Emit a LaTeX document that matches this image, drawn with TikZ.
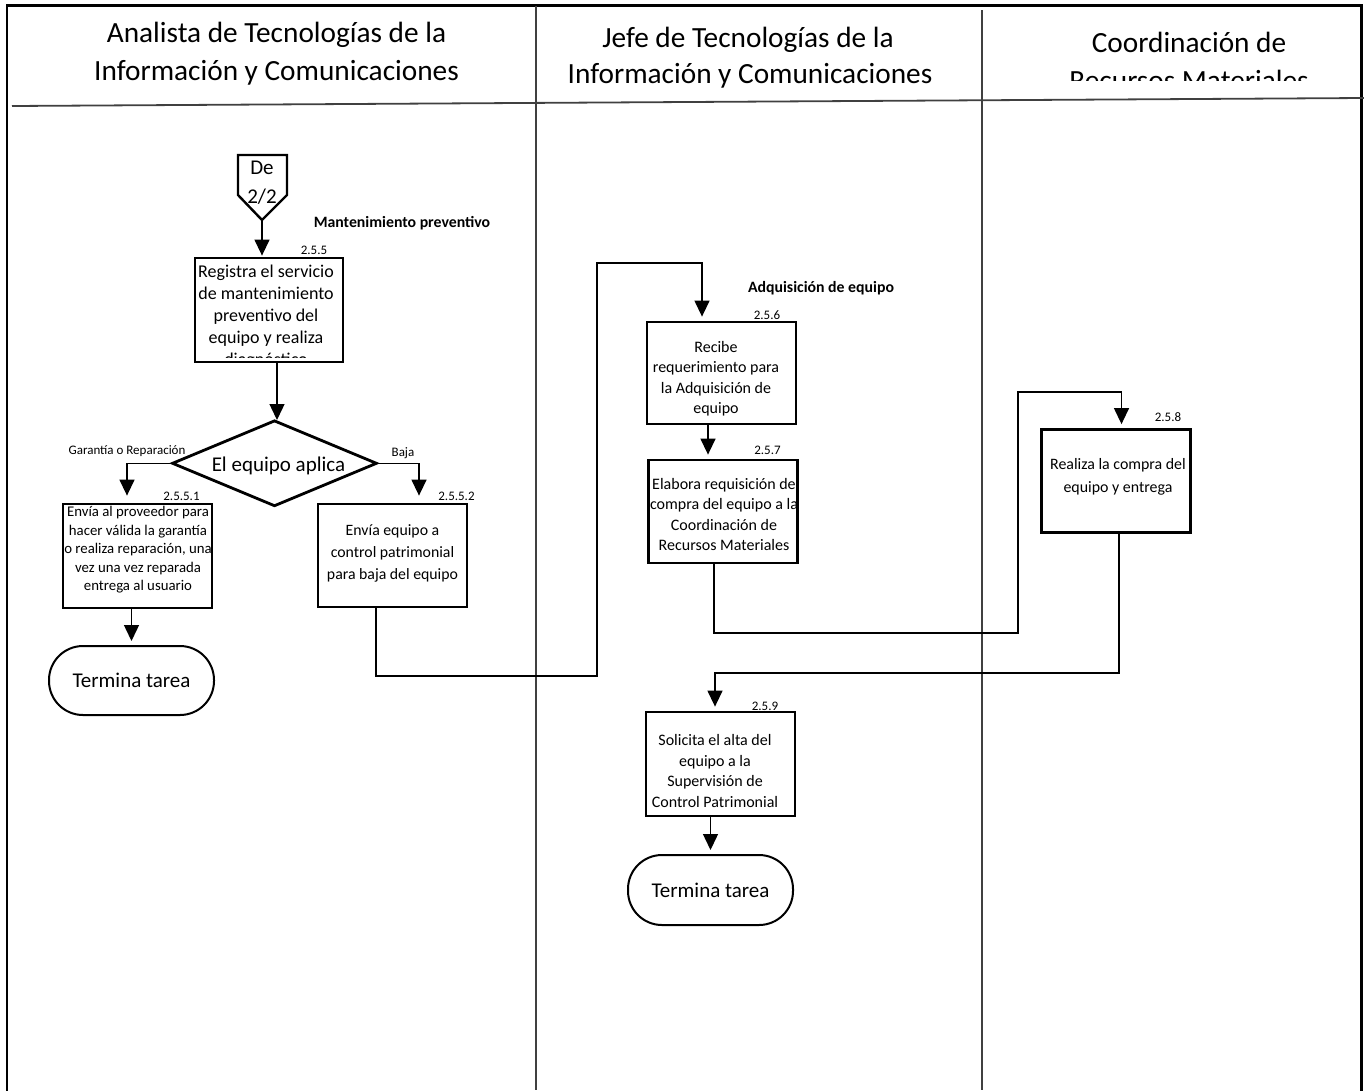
\documentclass[tikz,border=0pt]{standalone}
\usepackage{fontspec}
\setmainfont{Carlito}
\usetikzlibrary{arrows.meta,shapes.geometric}
\begin{document}
\begin{tikzpicture}[x=1pt,y=-1pt,
  frame/.style={line width=2.6pt,black,line cap=rect},
  lane/.style={line width=1.5pt,black!75},
  header/.style={anchor=base,inner sep=0pt,font=\fontsize{29.3}{38}\selectfont},
  stepbox/.style={draw,rectangle,line width=2.8pt,inner sep=0pt},
  endbox/.style={draw,rectangle,line width=2pt,rounded corners=34pt,inner sep=0pt,
    minimum width=165pt,minimum height=69pt,font=\fontsize{21}{25}\selectfont},
  boxtext/.style={align=center,inner sep=0pt,font=\fontsize{16}{20.5}\selectfont},
  num/.style={inner sep=0pt,font=\fontsize{13}{15}\selectfont},
  caption/.style={inner sep=0pt,font=\fontsize{15.8}{18}\selectfont\bfseries},
  flow/.style={line width=1.4pt,-{Triangle[length=16pt,width=15pt]},shorten >=4pt},
  link/.style={line width=1.3pt}
]
\useasboundingbox (0,0) rectangle (1364,1090);

% swimlane frame
\draw[frame] (7,5.5) -- (1361,5.5);
\draw[frame] (7,5.5) -- (7,1090);
\draw[frame,line width=3pt] (1361,5.5) -- (1361,1090);
\draw[lane] (536,5.5) -- (536,1090);
\draw[lane,line width=2pt] (982,10) -- (982,1090);
\draw[lane,line width=1.8pt] (12,106) -- (1364,98);

% lane headers
\node[header] (h1a) at (276.5,42) {Analista de Tecnologías de la};
\node[header] (h1b) at (276.5,80) {Información y Comunicaciones};
\node[header] (h2a) at (748,47) {Jefe de Tecnologías de la};
\node[header] (h2b) at (750,83) {Información y Comunicaciones};
\begin{scope}
  \clip (984,7) rectangle (1359,80);
  \node[header] (h3a) at (1189,52) {Coordinación de};
  \node[header] (h3b) at (1189,90) {Recursos Materiales};
\end{scope}

% off-page connector
\draw[line width=2.4pt,line join=miter] (238,155) -- (287,155) -- (287,195) -- (262,220) -- (238,195) -- cycle;
\coordinate (optip) at (262,220);
\node[align=center,inner sep=0pt,font=\fontsize{21}{29}\selectfont] (offpage) at (262,183) {De\\2/2};

\node[caption] (cap1) at (402,223) {Mantenimiento preventivo};

% first lane steps
\node[stepbox,minimum width=148pt,minimum height=104pt] (b255) at (269,310) {};
\begin{scope}
  \clip (196,259) rectangle (342,357.5);
  \node[boxtext,font=\fontsize{18}{22}\selectfont] (t255) at (266,317)
    {Registra el servicio\\de mantenimiento\\preventivo del\\equipo y realiza\\diagnóstico};
\end{scope}
\node[num] (n255) at (314,250) {2.5.5};

\node[draw,diamond,line width=2.8pt,inner sep=0pt,minimum width=205pt,minimum height=86pt,
  font=\fontsize{21}{25}\selectfont] (dia) at (274.5,463.3) {};
\node[inner sep=0pt,font=\fontsize{21}{25}\selectfont] (tdia) at (278.5,466) {El equipo aplica};

\node[stepbox,minimum width=149pt,minimum height=104pt] (b2551) at (137.5,556) {};
\node[boxtext,font=\fontsize{14.8}{18.5}\selectfont] (t2551) at (138,550)
  {Envía al proveedor para\\hacer válida la garantía\\o realiza reparación, una\\vez una vez reparada\\entrega al usuario};
\node[num] (n2551) at (181.5,496.5) {2.5.5.1};

\node[stepbox,minimum width=149pt,minimum height=103pt] (b2552) at (392.5,555.5) {};
\node[boxtext,font=\fontsize{15.8}{22}\selectfont] (t2552) at (392.5,553)
  {Envía equipo a\\control patrimonial\\para baja del equipo};
\node[num] (n2552) at (456.5,496.5) {2.5.5.2};

\node[num] (lg) at (127,451.5) {Garantía o Reparación};
\node[num] (lb) at (403,453.5) {Baja};

\node[endbox] (term1) at (131.5,680.5) {Termina tarea};

% second lane steps
\node[caption] (cap2) at (821,288) {Adquisición de equipo};

\node[stepbox,minimum width=149pt,minimum height=102pt] (b256) at (721.5,373) {};
\node[boxtext] (t256) at (716,378.5) {Recibe\\requerimiento para\\la Adquisición de\\equipo};
\node[num] (n256) at (767,315) {2.5.6};

\node[stepbox,minimum width=149pt,minimum height=103pt] (b257) at (723,511.5) {};
\node[boxtext] (t257) at (724,514.5) {Elabora requisición de\\compra del equipo a la\\Coordinación de\\Recursos Materiales};
\node[num] (n257) at (767.5,450) {2.5.7};

\node[stepbox,minimum width=149pt,minimum height=104pt] (b259) at (720.5,764) {};
\node[boxtext] (t259) at (715,771) {Solicita el alta del\\equipo a la\\Supervisión de\\Control Patrimonial};
\node[num] (n259) at (765,706) {2.5.9};

\node[endbox,minimum height=70pt] (term2) at (710.5,890) {Termina tarea};

% third lane step
\node[stepbox,minimum width=149pt,minimum height=103pt] (b258) at (1116,481) {};
\node[boxtext,font=\fontsize{15.9}{23}\selectfont] (t258) at (1118,476.5) {Realiza la compra del\\equipo y entrega};
\node[num] (n258) at (1168,417.5) {2.5.8};

% connectors
\draw[flow,shorten >=1pt] (optip) -- (optip |- b255.north);
\draw[flow,shorten >=0pt] (b255.south -| 277,0) -- (277,420);

\coordinate (g1) at (127,463.3);
\coordinate (g2) at (419,463.3);
\draw[flow,shorten >=7pt] (dia.west) -- (g1) -- (g1 |- b2551.north);
\draw[flow,shorten >=7pt] (dia.east) -- (g2) -- (g2 |- b2552.north);

\draw[flow] (b2551.south -| term1.north) -- (term1.north);

\coordinate (k1) at (376,676);
\coordinate (k2) at (597,676);
\coordinate (k3) at (597,263);
\coordinate (k4) at (702,263);
\draw[flow,line width=1.3pt] (k1 |- b2552.south) -- (k1) -- (k2) -- (k3) -- (k4) -- (k4 |- b256.north);

\coordinate (a1) at (708,0);
\draw[flow] (b256.south -| a1) -- (b257.north -| a1);

\coordinate (m1) at (714,633);
\coordinate (m2) at (1018,633);
\coordinate (m3) at (1018,392);
\coordinate (m4) at (1121.5,392);
\draw[flow,line width=1.3pt] (m1 |- b257.south) -- (m1) -- (m2) -- (m3) -- (m4) -- (m4 |- b258.north);

\coordinate (r1) at (1119,673);
\coordinate (r2) at (715,673);
\draw[flow,line width=1.3pt] (r1 |- b258.south) -- (r1) -- (r2) -- (r2 |- b259.north);

\draw[flow] (b259.south -| term2.north) -- (term2.north);
\end{tikzpicture}
\end{document}
